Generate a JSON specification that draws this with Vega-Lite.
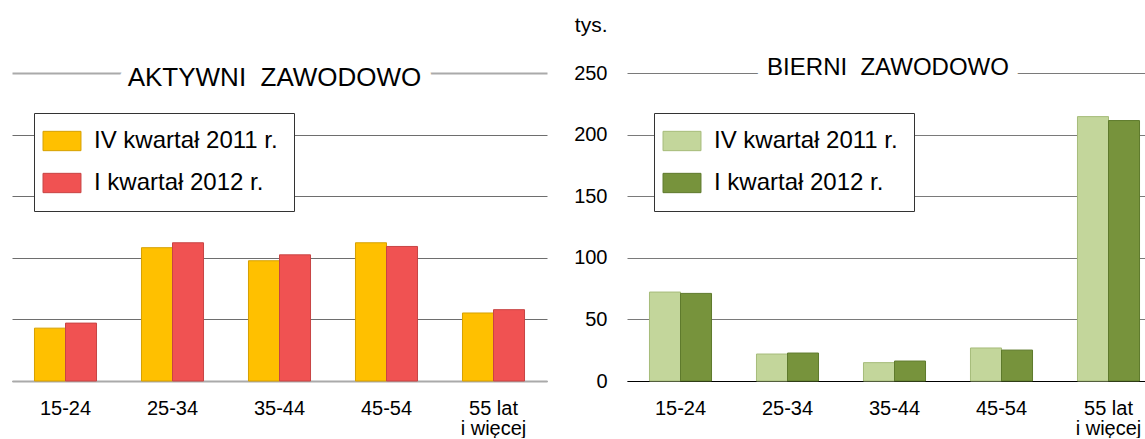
{
  "$schema": "https://vega.github.io/schema/vega-lite/v6.json",
  "padding": {"left": 12, "top": 14, "right": 0, "bottom": 0},
  "background": "white",
  "config": {
    "font": "Liberation Sans",
    "view": {"stroke": null},
    "legend": {
      "title": null,
      "orient": "none",
      "symbolType": "M-1.65,-0.84L1.65,-0.84L1.65,0.84L-1.65,0.84Z",
      "symbolSize": 529,
      "symbolStrokeColor": "#333333",
      "symbolStrokeWidth": 1,
      "symbolOpacity": 1,
      "labelFontSize": 24,
      "labelColor": "#000000",
      "labelLimit": 400,
      "labelOffset": 20,
      "rowPadding": 18,
      "padding": 16,
      "strokeColor": "#333333",
      "fillColor": "white"
    }
  },
  "datasets": {
    "aktywni": [
      {"wiek": "15-24", "okres": "IV kwartał 2011 r.", "wartosc": 42.9},
      {"wiek": "15-24", "okres": "I kwartał 2012 r.", "wartosc": 47.0},
      {"wiek": "25-34", "okres": "IV kwartał 2011 r.", "wartosc": 108.2},
      {"wiek": "25-34", "okres": "I kwartał 2012 r.", "wartosc": 112.2},
      {"wiek": "35-44", "okres": "IV kwartał 2011 r.", "wartosc": 97.6},
      {"wiek": "35-44", "okres": "I kwartał 2012 r.", "wartosc": 102.4},
      {"wiek": "45-54", "okres": "IV kwartał 2011 r.", "wartosc": 112.2},
      {"wiek": "45-54", "okres": "I kwartał 2012 r.", "wartosc": 109.2},
      {"wiek": "55 lat i więcej", "okres": "IV kwartał 2011 r.", "wartosc": 55.2},
      {"wiek": "55 lat i więcej", "okres": "I kwartał 2012 r.", "wartosc": 57.9}
    ],
    "bierni": [
      {"wiek": "15-24", "okres": "IV kwartał 2011 r.", "wartosc": 72.2},
      {"wiek": "15-24", "okres": "I kwartał 2012 r.", "wartosc": 71.1},
      {"wiek": "25-34", "okres": "IV kwartał 2011 r.", "wartosc": 21.9},
      {"wiek": "25-34", "okres": "I kwartał 2012 r.", "wartosc": 22.7},
      {"wiek": "35-44", "okres": "IV kwartał 2011 r.", "wartosc": 14.9},
      {"wiek": "35-44", "okres": "I kwartał 2012 r.", "wartosc": 16.2},
      {"wiek": "45-54", "okres": "IV kwartał 2011 r.", "wartosc": 26.8},
      {"wiek": "45-54", "okres": "I kwartał 2012 r.", "wartosc": 25.1},
      {"wiek": "55 lat i więcej", "okres": "IV kwartał 2011 r.", "wartosc": 214.6},
      {"wiek": "55 lat i więcej", "okres": "I kwartał 2012 r.", "wartosc": 211.4}
    ]
  },
  "bounds": "flush",
  "spacing": 80,
  "resolve": {
    "scale": {"color": "independent", "stroke": "independent", "x": "independent", "y": "independent"},
    "legend": {"color": "independent"}
  },
  "hconcat": [
    {
      "width": 535,
      "height": 308,
      "layer": [
        {
          "data": {"name": "aktywni"},
          "mark": {"type": "bar", "strokeWidth": 1},
          "encoding": {
            "x": {
              "field": "wiek", "type": "nominal", "sort": null,
              "scale": {"paddingInner": 0.42, "paddingOuter": 0.21},
              "axis": {
                "title": null, "labelAngle": 0, "labelFontSize": 20, "labelColor": "#000000",
                "ticks": false, "tickSize": 0, "labelPadding": 17,
                "domainColor": "#aaaaaa", "domainWidth": 2,
                "labelLineHeight": 20,
                "labelExpr": "datum.label == '55 lat i więcej' ? ['55 lat', 'i więcej'] : datum.label"
              }
            },
            "xOffset": {"field": "okres", "type": "nominal", "sort": null},
            "y": {
              "field": "wartosc", "type": "quantitative",
              "scale": {"domain": [0, 250], "nice": false},
              "axis": {
                "title": null, "labels": false, "ticks": false, "tickSize": 0, "domain": false,
                "values": [0, 50, 100, 150, 200, 250], "grid": true,
                "gridColor": {"condition": {"test": "datum.value == 250", "value": "#aaaaaa"}, "value": "#6e6e6e"},
                "gridWidth": {"condition": {"test": "datum.value == 250", "value": 2}, "value": 1}
              }
            },
            "color": {
              "field": "okres", "type": "nominal", "sort": null,
              "scale": {"domain": ["IV kwartał 2011 r.", "I kwartał 2012 r."], "range": ["#FFC000", "#F05252"]},
              "legend": {"legendX": 22, "legendY": 40}
            },
            "stroke": {
              "field": "okres", "type": "nominal", "sort": null,
              "scale": {"domain": ["IV kwartał 2011 r.", "I kwartał 2012 r."], "range": ["#D6A000", "#C84444"]},
              "legend": null
            }
          }
        },
        {
          "data": {"values": [{}]},
          "mark": {"type": "text", "text": "AKTYWNI\u00a0\u00a0ZAWODOWO", "fontSize": 26, "baseline": "alphabetic", "dy": 13, "dx": -5, "color": "white", "stroke": "white", "strokeWidth": 22},
          "encoding": {"y": {"datum": 250}}
        },
        {
          "data": {"values": [{}]},
          "mark": {"type": "text", "text": "AKTYWNI\u00a0\u00a0ZAWODOWO", "fontSize": 26, "baseline": "alphabetic", "dy": 13, "dx": -5, "color": "#000000"},
          "encoding": {"y": {"datum": 250}}
        }
      ]
    },
    {
      "width": 518,
      "height": 308,
      "layer": [
        {
          "data": {"name": "bierni"},
          "mark": {"type": "bar", "strokeWidth": 1},
          "encoding": {
            "x": {
              "field": "wiek", "type": "nominal", "sort": null,
              "scale": {"paddingInner": 0.42, "paddingOuter": 0.21, "range": [0, 535]},
              "axis": {
                "title": null, "labelAngle": 0, "labelFontSize": 20, "labelColor": "#000000",
                "ticks": false, "tickSize": 0, "labelPadding": 17,
                "domainColor": "#000000", "domainWidth": 1,
                "labelLineHeight": 20,
                "labelExpr": "datum.label == '55 lat i więcej' ? ['55 lat', 'i więcej'] : datum.label"
              }
            },
            "xOffset": {"field": "okres", "type": "nominal", "sort": null},
            "y": {
              "field": "wartosc", "type": "quantitative",
              "scale": {"domain": [0, 250], "nice": false},
              "axis": {
                "title": "tys.", "titleAngle": 0, "titleAlign": "right", "titleBaseline": "alphabetic",
                "titleX": -20, "titleY": -42, "titleFontSize": 21, "titleFontWeight": "normal", "titleColor": "#000000",
                "labelFontSize": 20, "labelColor": "#000000", "labelPadding": 20,
                "ticks": false, "tickSize": 0, "domain": false,
                "values": [0, 50, 100, 150, 200, 250], "grid": true, "gridColor": "#7a7a7a", "gridWidth": 1
              }
            },
            "color": {
              "field": "okres", "type": "nominal", "sort": null,
              "scale": {"domain": ["IV kwartał 2011 r.", "I kwartał 2012 r."], "range": ["#C3D69B", "#77933C"]},
              "legend": {"legendX": 27, "legendY": 40}
            },
            "stroke": {
              "field": "okres", "type": "nominal", "sort": null,
              "scale": {"domain": ["IV kwartał 2011 r.", "I kwartał 2012 r."], "range": ["#A6BC7A", "#5E7A2C"]},
              "legend": null
            }
          }
        },
        {
          "data": {"values": [{}]},
          "mark": {"type": "text", "text": "BIERNI\u00a0\u00a0ZAWODOWO", "fontSize": 24, "baseline": "alphabetic", "dy": 2, "dx": 2, "color": "white", "stroke": "white", "strokeWidth": 22},
          "encoding": {"y": {"datum": 250}}
        },
        {
          "data": {"values": [{}]},
          "mark": {"type": "text", "text": "BIERNI\u00a0\u00a0ZAWODOWO", "fontSize": 24, "baseline": "alphabetic", "dy": 2, "dx": 2, "color": "#000000"},
          "encoding": {"y": {"datum": 250}}
        }
      ]
    }
  ]
}
